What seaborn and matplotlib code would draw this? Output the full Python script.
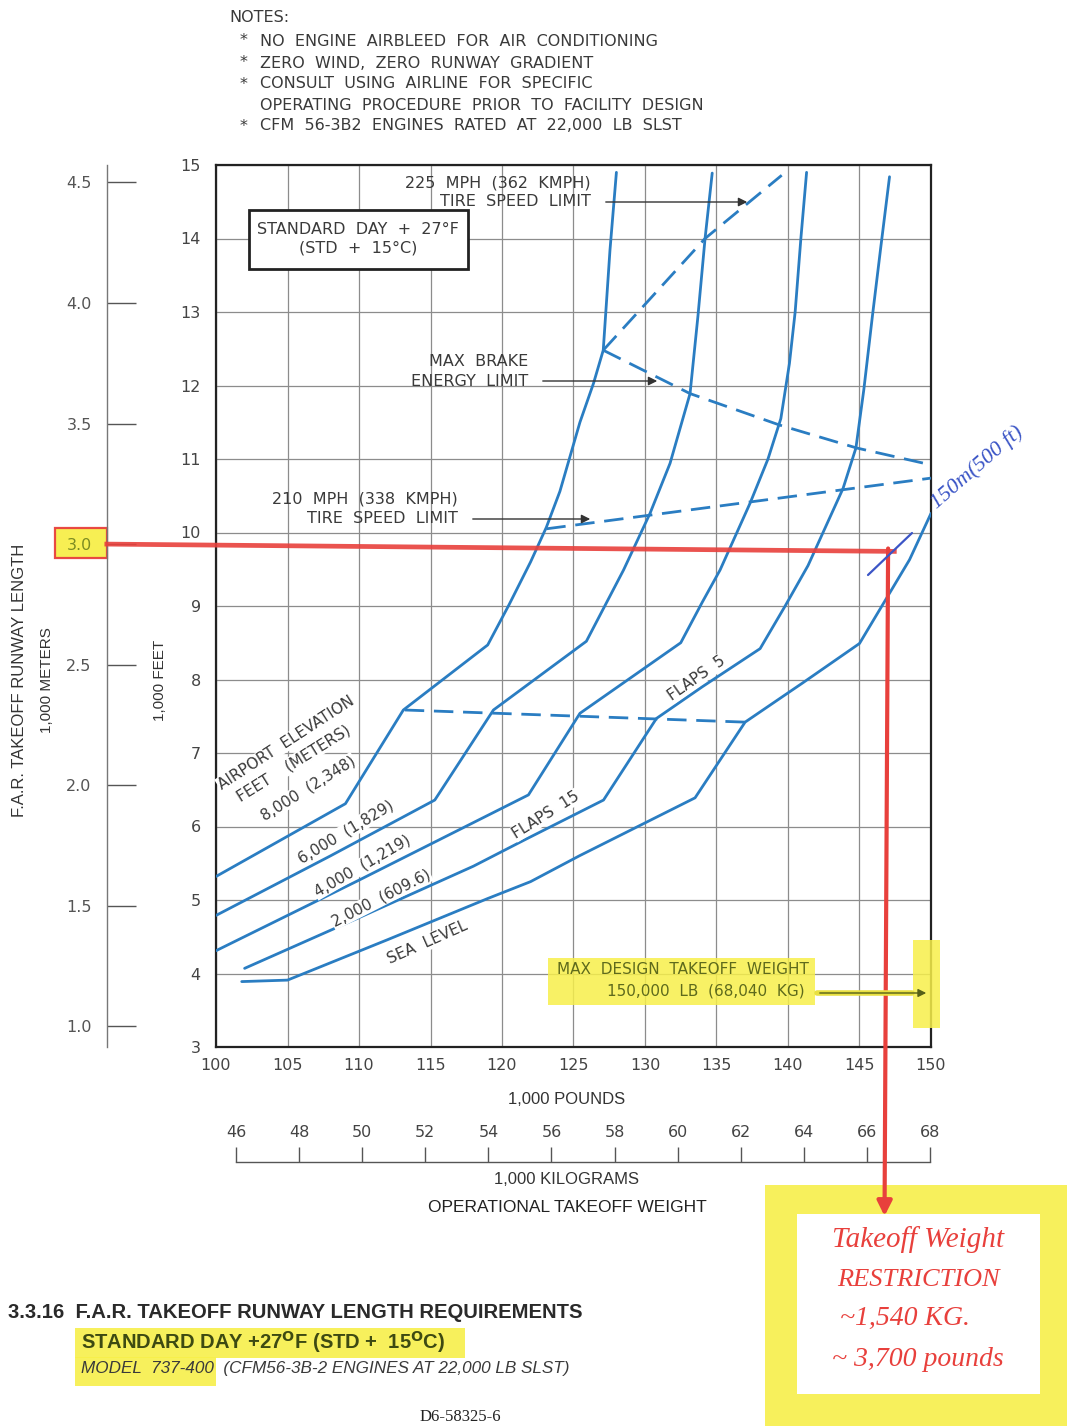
import numpy as np
import pandas as pd
import matplotlib
matplotlib.use("Agg")
import matplotlib.pyplot as plt
import seaborn as sns
from matplotlib.patches import Rectangle, FancyArrowPatch
from matplotlib.lines import Line2D

# ---------------- data (weight in 1,000 lb, runway length in 1,000 ft) ----------------
sea_level_lb = [101.8, 105.0, 112.0, 119.0, 122.0, 125.4, 133.5, 137.0, 141.0, 145.0, 148.5, 150.0]
sea_level_ft = [3.89, 3.91, 4.46, 5.02, 5.25, 5.60, 6.39, 7.42, 7.95, 8.49, 9.63, 10.26]

elev2000_lb = [102.0, 110.0, 118.0, 121.6, 127.1, 130.8, 134.0, 138.05, 139.8, 141.4,
               143.85, 144.75, 145.3, 145.9, 146.5, 147.1]
elev2000_ft = [4.07, 4.76, 5.46, 5.82, 6.36, 7.47, 7.90, 8.42, 9.00, 9.55,
               10.60, 11.15, 11.94, 12.94, 13.90, 14.84]

elev4000_lb = [100.0, 110.0, 121.85, 125.45, 132.5, 134.0, 135.25, 137.35, 138.6,
               139.5, 140.1, 140.5, 140.9, 141.3]
elev4000_ft = [4.31, 5.27, 6.43, 7.54, 8.50, 9.05, 9.49, 10.40, 11.00,
               11.55, 12.30, 13.00, 14.00, 14.90]

elev6000_lb = [100.0, 108.0, 115.3, 119.4, 125.9, 128.5, 130.35, 131.75, 133.15,
               133.7, 134.2, 134.7]
elev6000_ft = [4.79, 5.60, 6.36, 7.585, 8.52, 9.49, 10.26, 10.94, 11.89,
               12.94, 14.00, 14.89]

elev8000_lb = [100.0, 109.05, 113.1, 119.0, 120.5, 122.0, 123.1, 124.05, 125.45,
               126.4, 127.08, 127.55, 128.0]
elev8000_ft = [5.32, 6.31, 7.585, 8.47, 9.02, 9.60, 10.07, 10.56, 11.50,
               12.03, 12.48, 13.84, 14.90]

# limit lines
flaps_change_lb = [113.2, 137.0]
flaps_change_ft = [7.585, 7.42]
tire210_lb = [123.1, 150.0]
tire210_ft = [10.05, 10.74]
brake_lb = [127.08, 133.15, 139.44, 144.8, 150.0]
brake_ft = [12.48, 11.89, 11.46, 11.15, 10.92]
tire225_lb = [127.08, 134.2, 139.56]
tire225_ft = [12.48, 14.00, 14.86]

lb_ticks = list(range(100, 151, 5))
ft_ticks = list(range(3, 16))
m_ticks = [1.0, 1.5, 2.0, 2.5, 3.0, 3.5, 4.0, 4.5]
kg_ticks = list(range(46, 69, 2))

runway_km = 3.0          # available runway (hand annotation)
restricted_lb = 147.0

# ---------------- style ----------------
sns.set_theme(style="white")
plt.rcParams["font.family"] = ["DejaVu Sans"]
W, H = 1067, 1426
fig = plt.figure(figsize=(W / 100, H / 100), dpi=100)
fig.patch.set_facecolor("white")

def fx(px):
    return px / W

def fy(py):
    return 1 - py / H

BLUE = "#2a7dc2"
GRID = "#8c8c8c"
INK = "#3a3a3a"
HL = "#f7ef4a"
RED = "#e8403c"
NARROW = ["Liberation Sans Narrow", "Liberation Sans"]
CAD = 11.5

ax = fig.add_axes([fx(216), fy(1047), 715 / W, 882 / H])
ax.set_xlim(100, 150)
ax.set_ylim(3, 15)
ax.set_xticks(lb_ticks)
ax.set_yticks(ft_ticks)
ax.grid(True, color=GRID, lw=0.9)
ax.tick_params(length=0, labelsize=11.5, labelcolor="#444444")
ax.tick_params(axis="y", pad=11)
ax.tick_params(axis="x", pad=8)
for s in ax.spines.values():
    s.set_visible(True)
    s.set_color("#222222")
    s.set_linewidth(1.6)

# elevation curves
curves = [
    ("Sea level", sea_level_lb, sea_level_ft),
    ("2,000", elev2000_lb, elev2000_ft),
    ("4,000", elev4000_lb, elev4000_ft),
    ("6,000", elev6000_lb, elev6000_ft),
    ("8,000", elev8000_lb, elev8000_ft),
]
for name, xs, ys in curves:
    df = pd.DataFrame({"weight": xs, "runway": ys})
    sns.lineplot(data=df, x="weight", y="runway", sort=False, estimator=None,
                 color=BLUE, lw=2.0, ax=ax, zorder=4)

dash = (0, (7, 3.5))
for xs, ys in [(flaps_change_lb, flaps_change_ft), (tire210_lb, tire210_ft),
               (brake_lb, brake_ft), (tire225_lb, tire225_ft)]:
    df = pd.DataFrame({"weight": xs, "runway": ys})
    sns.lineplot(data=df, x="weight", y="runway", sort=False, estimator=None,
                 color=BLUE, lw=2.0, linestyle=dash, ax=ax, zorder=4)
ax.set_xlabel("")
ax.set_ylabel("")

# metric runway scale
ft_to_m = lambda v: v * 0.3048
m_to_ft = lambda v: v / 0.3048
sec_y = ax.secondary_yaxis(-109 / 715, functions=(ft_to_m, m_to_ft))
sec_y.set_yticks(m_ticks)
sec_y.set_yticklabels([f"{t:.1f}" for t in m_ticks])
sec_y.tick_params(direction="in", length=21, width=1.0, color="#555555",
                  labelsize=11.5, labelcolor="#555555", pad=11)
sec_y.spines["left"].set_color("#777777")
sec_y.spines["left"].set_linewidth(1.0)

# metric weight scale
lb_to_kg = lambda v: v / 2.20462
kg_to_lb = lambda v: v * 2.20462
sec_x = ax.secondary_xaxis(-(1162 - 1047) / 882, functions=(lb_to_kg, kg_to_lb))
sec_x.set_alignment("top")
sec_x.set_xticks(kg_ticks)
sec_x.tick_params(direction="out", length=11, width=1.0, color="#555555",
                  labelsize=11.5, labelcolor="#444444", pad=5)
sec_x.spines["top"].set_color("#555555")
sec_x.spines["top"].set_linewidth(1.0)
sec_x.spines["top"].set_bounds(46, 68)

# ---------------- texts around the chart ----------------
def ftext(px, py, s, **kw):
    kw.setdefault("color", INK)
    return fig.text(fx(px), fy(py), s, **kw)

ftext(229, 17, "NOTES:", fontsize=11.5, va="center")
notes = [
    (41, "*", "NO  ENGINE  AIRBLEED  FOR  AIR  CONDITIONING"),
    (63, "*", "ZERO  WIND,  ZERO  RUNWAY  GRADIENT"),
    (84, "*", "CONSULT  USING  AIRLINE  FOR  SPECIFIC"),
    (105, "", "OPERATING  PROCEDURE  PRIOR  TO  FACILITY  DESIGN"),
    (126, "*", "CFM  56-3B2  ENGINES  RATED  AT  22,000  LB  SLST"),
]
for py, b, s in notes:
    if b:
        ftext(244, py, b, fontsize=11.5, va="center", ha="center")
    ftext(260, py, s, fontsize=11.5, va="center")

ftext(20, 680, "F.A.R. TAKEOFF RUNWAY LENGTH", rotation=90, va="center", ha="center",
      fontsize=12, family=NARROW, color="#333333")
ftext(47, 680, "1,000 METERS", rotation=90, va="center", ha="center",
      fontsize=11, family=NARROW, color="#333333")
ftext(160, 680, "1,000 FEET", rotation=90, va="center", ha="center",
      fontsize=11, family=NARROW, color="#333333")
ftext(567, 1099, "1,000 POUNDS", ha="center", va="center", fontsize=12,
      family=NARROW, color="#333333")
ftext(567, 1180, "1,000 KILOGRAMS", ha="center", va="center", fontsize=12,
      family=NARROW, color="#333333")
ftext(567, 1208, "OPERATIONAL TAKEOFF WEIGHT", ha="center", va="center", fontsize=12.5,
      family=NARROW, color="#222222")

# inside-chart labels
ftext(591, 183, "225  MPH  (362  KMPH)", ha="right", va="center", fontsize=CAD)
ftext(591, 201, "TIRE  SPEED  LIMIT", ha="right", va="center", fontsize=CAD)
ftext(528, 362, "MAX  BRAKE", ha="right", va="center", fontsize=CAD)
ftext(528, 381, "ENERGY  LIMIT", ha="right", va="center", fontsize=CAD)
ftext(458, 499, "210  MPH  (338  KMPH)", ha="right", va="center", fontsize=CAD)
ftext(458, 518, "TIRE  SPEED  LIMIT", ha="right", va="center", fontsize=CAD)

for x0, x1, y in [(603, 750, 202), (540, 660, 381), (470, 593, 519)]:
    fig.patches.append(FancyArrowPatch((fx(x0), fy(y)), (fx(x1), fy(y)),
                                       transform=fig.transFigure, arrowstyle="-|>",
                                       mutation_scale=13, lw=1.0, color="#333333",
                                       zorder=6))

box = Rectangle((fx(249), fy(269)), fx(468) - fx(249), fy(210) - fy(269),
                transform=fig.transFigure, fill=True, facecolor="white",
                edgecolor="#222222", lw=2.0, zorder=5)
fig.patches.append(box)
ftext(358, 230, "STANDARD  DAY  +  27°F", ha="center", va="center", fontsize=CAD, zorder=6)
ftext(358, 248, "(STD  +  15°C)", ha="center", va="center", fontsize=CAD, zorder=6)

rot_labels = [
    (286, 743, "AIRPORT  ELEVATION", 33),
    (294, 763, "FEET    (METERS)", 32),
    (308, 788, "8,000  (2,348)", 32),
    (346, 832, "6,000  (1,829)", 31),
    (362, 866, "4,000  (1,219)", 30),
    (381, 898, "2,000  (609.6)", 27),
    (428, 942, "SEA  LEVEL", 24),
    (546, 815, "FLAPS  15", 32),
    (697, 678, "FLAPS  5", 35),
]
for px, py, s, r in rot_labels:
    ftext(px, py, s, ha="center", va="center", rotation=r, rotation_mode="anchor",
          fontsize=11, zorder=6,
          bbox=dict(facecolor="white", edgecolor="none", pad=0.5))

# max design takeoff weight callout
blob = Rectangle((fx(548), fy(1005)), fx(815) - fx(548), fy(958) - fy(1005),
                 transform=fig.transFigure, facecolor=HL, edgecolor="none",
                 alpha=0.85, zorder=1)
fig.patches.append(blob)
band = Rectangle((fx(913), fy(1028)), fx(940) - fx(913), fy(940) - fy(1028),
                 transform=fig.transFigure, facecolor=HL, edgecolor="none",
                 alpha=0.85, zorder=1)
fig.patches.append(band)
ftext(683, 970, "MAX  DESIGN  TAKEOFF  WEIGHT", ha="center", va="center",
      fontsize=CAD - 0.5, color="#5e6a1c", zorder=6)
ftext(706, 991, "150,000  LB  (68,040  KG)", ha="center", va="center",
      fontsize=CAD - 0.5, color="#5e6a1c", zorder=6)
fig.patches.append(FancyArrowPatch((fx(817), fy(993)), (fx(929), fy(993)),
                                   transform=fig.transFigure, arrowstyle="-|>",
                                   mutation_scale=12, lw=1.0, color="#556018",
                                   zorder=6))
fig.lines.append(Line2D([fx(817), fx(912)], [fy(993), fy(993)], transform=fig.transFigure,
                        color="#e8e040", lw=4, zorder=5))

# ---------------- hand annotation: runway limit -> weight restriction ----------------
runway_kft = runway_km / 0.3048
ax.plot([92.2, restricted_lb + 0.6], [runway_kft, runway_kft - 0.10], color=RED,
        lw=3.4, alpha=0.9, clip_on=False, zorder=7, solid_capstyle="butt")
ax.annotate("", xy=(restricted_lb - 0.25, 0.70), xytext=(restricted_lb, runway_kft - 0.06),
            arrowprops=dict(arrowstyle="-|>", color=RED, lw=3.0, mutation_scale=22,
                            shrinkA=0, shrinkB=0),
            annotation_clip=False, zorder=7)

# highlight on the 3.0 label
fig.patches.append(Rectangle((fx(55), fy(558)), fx(107) - fx(55), fy(528) - fy(558),
                             transform=fig.transFigure, facecolor=HL, edgecolor=RED,
                             lw=1.6, alpha=0.95, zorder=-1))
for lab in sec_y.get_yticklabels():
    if lab.get_text() == "3.0":
        lab.set_color("#7d8c22")

# blue runway-offset note
fig.lines.append(Line2D([fx(868), fx(912)], [fy(575), fy(533)], transform=fig.transFigure,
                        color="#3b55c6", lw=1.6, zorder=8))
ftext(977, 468, "150m(500 ft)", ha="center", va="center", rotation=41,
      rotation_mode="anchor", fontsize=16, style="italic", color="#3b55c6",
      family=["Liberation Serif"], zorder=8)

# weight restriction box
fig.patches.append(Rectangle((fx(765), fy(1426)), fx(1067) - fx(765), fy(1185) - fy(1426),
                             transform=fig.transFigure, facecolor=HL, edgecolor="none",
                             alpha=0.9, zorder=-2))
fig.patches.append(Rectangle((fx(797), fy(1394)), fx(1040) - fx(797), fy(1214) - fy(1394),
                             transform=fig.transFigure, facecolor="white", edgecolor="none",
                             zorder=-1.5))
hand = dict(ha="center", va="center", color=RED, style="italic",
            family=["Liberation Serif"], zorder=8)
ftext(918, 1240, "Takeoff Weight", fontsize=21, **hand)
ftext(918, 1280, "RESTRICTION", fontsize=19, **hand)
ftext(905, 1318, "~1,540 KG.", fontsize=20, **hand)
ftext(918, 1360, "~ 3,700 pounds", fontsize=20, **hand)

# ---------------- caption ----------------
ftext(8, 1313, "3.3.16  F.A.R. TAKEOFF RUNWAY LENGTH REQUIREMENTS", fontsize=14.6,
      weight="bold", family=["Liberation Sans"], va="center", color="#2a2a2a")
fig.patches.append(Rectangle((fx(75), fy(1358)), fx(465) - fx(75), fy(1328) - fy(1358),
                             transform=fig.transFigure, facecolor=HL, edgecolor="none",
                             alpha=0.9, zorder=-2))
fig.patches.append(Rectangle((fx(75), fy(1386)), fx(216) - fx(75), fy(1357) - fy(1386),
                             transform=fig.transFigure, facecolor=HL, edgecolor="none",
                             alpha=0.9, zorder=-2))
ftext(81, 1342, r"STANDARD DAY +27$^{\mathbf{O}}$F (STD +  15$^{\mathbf{O}}$C)",
      fontsize=14.5, weight="bold", family=["Liberation Sans"], va="center",
      color="#3d4a12")
ftext(81, 1368, "MODEL  737-400  (CFM56-3B-2 ENGINES AT 22,000 LB SLST)", fontsize=12.3,
      style="italic", family=NARROW, va="center", color="#3a3a3a")
ftext(460, 1417, "D6-58325-6", fontsize=12, family=["Liberation Serif"], va="center",
      ha="center", color="#222222")

fig.savefig("out.png", dpi=100, facecolor="white")
